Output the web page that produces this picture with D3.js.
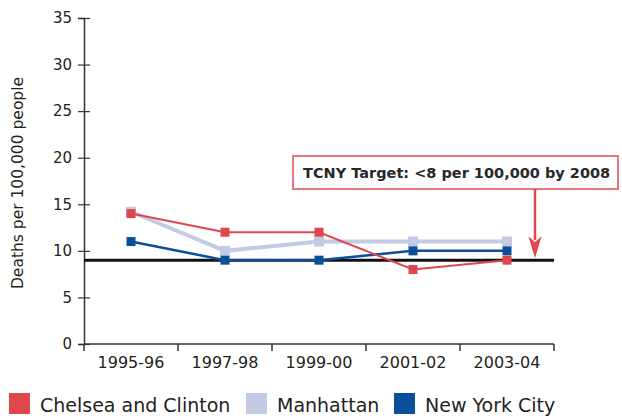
<!DOCTYPE html>
<html>
<head>
<meta charset="utf-8">
<script src="https://cdn.jsdelivr.net/npm/d3@7"></script>
<style>
  body { margin: 0; background: #fff; }
  svg { display: block; font-family: "DejaVu Sans", sans-serif; }
</style>
</head>
<body>
<svg class="chart"></svg>
<script>

var periods = ["1995-96", "1997-98", "1999-00", "2001-02", "2003-04"];
var chelseaClinton = [14, 12, 12, 8, 9];
var manhattan = [14.2, 10, 11, 11, 11];
var newYorkCity = [11, 9, 9, 10, 10];
var yTicks = [0, 5, 10, 15, 20, 25, 30, 35];
var targetLine = 9;
var seriesNames = ["Chelsea and Clinton", "Manhattan", "New York City"];

window.onload = function () {

    var width = 622, height = 416;
    var margin = { top: 18, right: 68, bottom: 72, left: 84 };
    var textColor = "#231f20";

    var series = [ // drawn back to front
        { name: seriesNames[1], values: manhattan, color: "#c3cbe4", stroke: 4, marker: 10 },
        { name: seriesNames[2], values: newYorkCity, color: "#0b4f9c", stroke: 2.5, marker: 9 },
        { name: seriesNames[0], values: chelseaClinton, color: "#e0474d", stroke: 2, marker: 9 }
    ];

    var svg = d3.select("svg.chart")
        .attr("width", width)
        .attr("height", height);

    var x = d3.scaleBand()
        .domain(periods)
        .range([margin.left, width - margin.right]);

    var y = d3.scaleLinear()
        .domain([0, 35])
        .range([height - margin.bottom, margin.top]);

    // y axis, ticks cross the line
    var yAxis = svg.append("g")
        .attr("transform", "translate(" + margin.left + ",0)")
        .call(d3.axisLeft(y).tickValues(yTicks).tickSize(6).tickPadding(6));
    yAxis.selectAll(".tick line").attr("x2", 6).attr("x1", -6);

    // x axis with ticks at band boundaries
    var xAxis = svg.append("g")
        .attr("transform", "translate(0," + y(0) + ")")
        .call(d3.axisBottom(x).tickSize(0).tickPadding(13));
    xAxis.select(".domain").remove();
    xAxis.append("line")
        .attr("x1", x.range()[0]).attr("x2", x.range()[1])
        .attr("stroke", "#333").attr("stroke-width", 1.5);
    xAxis.selectAll(".bound")
        .data(periods.concat([null]))
        .enter()
        .append("line")
            .attr("x1", function (d, i) { return x.range()[0] + i * x.step(); })
            .attr("x2", function (d, i) { return x.range()[0] + i * x.step(); })
            .attr("y1", 0).attr("y2", 7)
            .attr("stroke", "#333").attr("stroke-width", 1.5);

    yAxis.select(".domain").attr("stroke", "#333").attr("stroke-width", 1.5);
    yAxis.selectAll(".tick line").attr("stroke", "#333").attr("stroke-width", 1.2);
    yAxis.selectAll("text").attr("font-size", 15).attr("fill", textColor)
        .attr("font-family", "DejaVu Sans");
    xAxis.selectAll("text").attr("font-size", 16).attr("fill", textColor)
        .attr("font-family", "DejaVu Sans");

    svg.append("text")
        .attr("transform", "translate(23," + ((y(0) + y(35)) / 2 + 2) + ") rotate(-90)")
        .attr("text-anchor", "middle")
        .attr("font-size", 15.5)
        .attr("fill", textColor)
        .text("Deaths per 100,000 people");

    // target line
    svg.append("line")
        .attr("x1", x.range()[0]).attr("x2", x.range()[1])
        .attr("y1", y(targetLine)).attr("y2", y(targetLine))
        .attr("stroke", "#111").attr("stroke-width", 3);

    var line = d3.line()
        .x(function (d, i) { return x(periods[i]) + x.bandwidth() / 2; })
        .y(function (d) { return y(d); });

    series.forEach(function (s) {
        var g = svg.append("g");
        g.append("path")
            .datum(s.values)
            .attr("d", line)
            .attr("fill", "none")
            .attr("stroke", s.color)
            .attr("stroke-width", s.stroke);
        g.selectAll("rect")
            .data(s.values)
            .enter()
            .append("rect")
                .attr("x", function (d, i) { return x(periods[i]) + x.bandwidth() / 2 - s.marker / 2; })
                .attr("y", function (d) { return y(d) - s.marker / 2; })
                .attr("width", s.marker)
                .attr("height", s.marker)
                .attr("fill", s.color);
    });

    // annotation box and arrow
    var arrowX = x.range()[1] - 19;
    var boxTop = 156, boxBottom = 189;
    svg.append("rect")
        .attr("x", 293).attr("y", boxTop)
        .attr("width", 325).attr("height", boxBottom - boxTop)
        .attr("fill", "#fff")
        .attr("stroke", "#e8777c").attr("stroke-width", 2);
    svg.append("text")
        .attr("x", 303).attr("y", 177.5)
        .attr("font-size", 14.5)
        .attr("font-weight", "bold")
        .attr("fill", "#2b2627")
        .text("TCNY Target: <8 per 100,000 by 2008");
    var tipY = y(targetLine) - 2;
    svg.append("line")
        .attr("x1", arrowX).attr("x2", arrowX)
        .attr("y1", boxBottom).attr("y2", tipY - 18)
        .attr("stroke", "#e0474d").attr("stroke-width", 2.5);
    svg.append("path")
        .attr("d", "M" + (arrowX - 6.5) + "," + (tipY - 22) + "L" + arrowX + "," + (tipY - 16) +
            "L" + (arrowX + 6.5) + "," + (tipY - 22) + "L" + arrowX + "," + tipY + "Z")
        .attr("fill", "#e0474d");

    // legend
    var legendX = [9, 246, 394];
    var legendColors = { "Chelsea and Clinton": "#e0474d", "Manhattan": "#c3cbe4", "New York City": "#0b4f9c" };
    var legend = svg.selectAll(".legend")
        .data(seriesNames)
        .enter()
        .append("g")
            .attr("class", "legend")
            .attr("transform", function (d, i) { return "translate(" + legendX[i] + ",393)"; });
    legend.append("rect")
        .attr("width", 21).attr("height", 21)
        .attr("fill", function (d) { return legendColors[d]; });
    legend.append("text")
        .attr("x", 31).attr("y", 18.5)
        .attr("font-size", 19)
        .attr("fill", textColor)
        .text(function (d) { return d; });
};
</script>
</body>
</html>
